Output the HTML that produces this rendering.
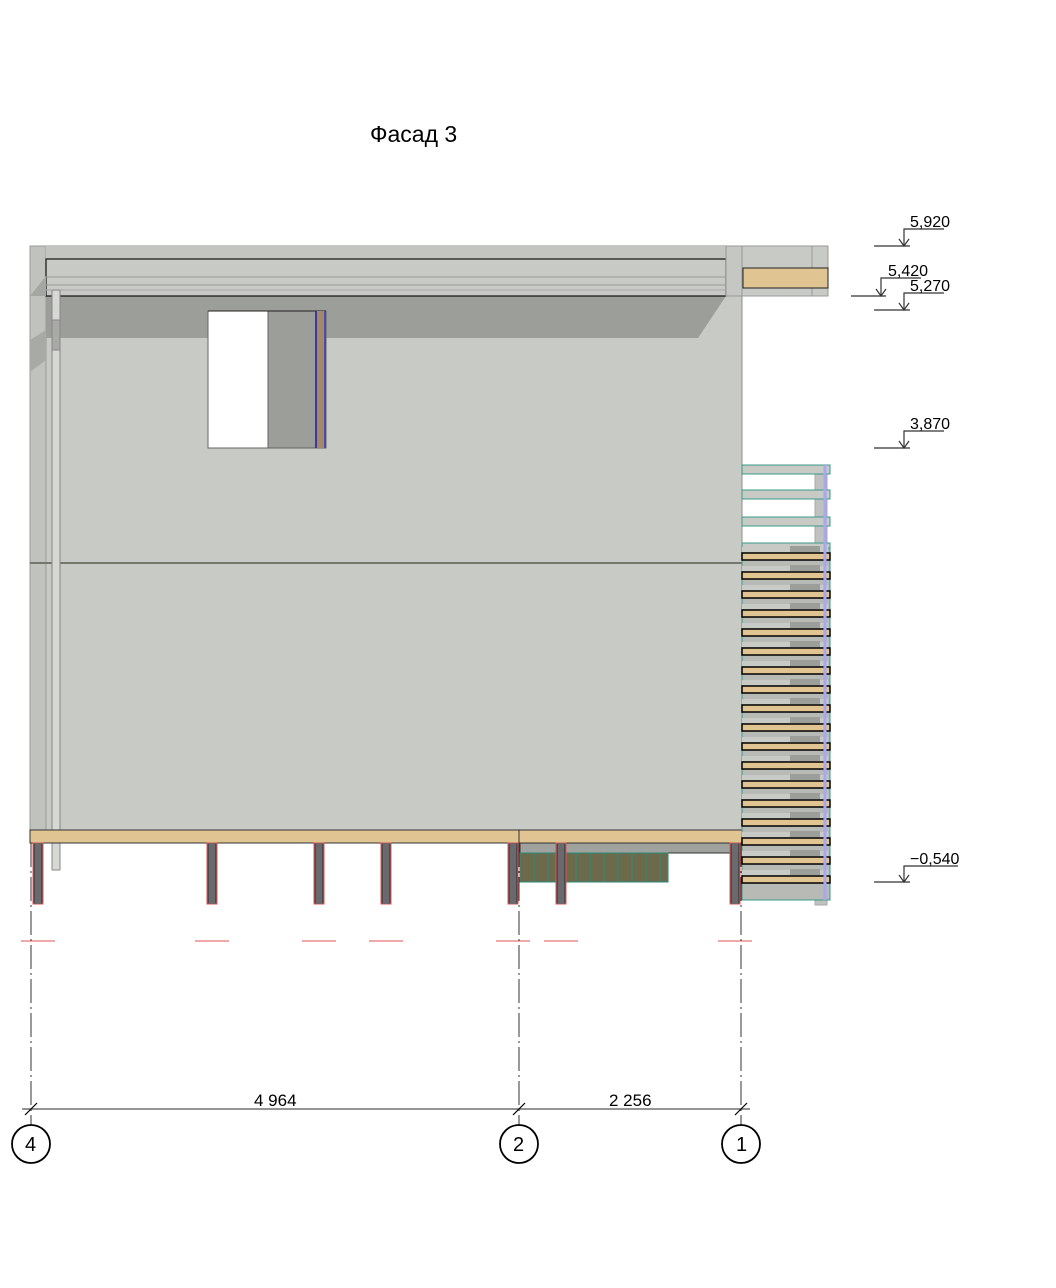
<!DOCTYPE html>
<html><head><meta charset="utf-8"><style>
html,body{margin:0;padding:0;background:#fff;width:1056px;height:1288px;overflow:hidden}
svg{display:block}
text{font-family:"Liberation Sans Narrow","Liberation Sans","DejaVu Sans",sans-serif;fill:#000}
</style></head><body>
<svg id="s" width="1056" height="1288" viewBox="0 0 1056 1288" xmlns="http://www.w3.org/2000/svg">
<text x="370" y="142" font-size="23">Фасад 3</text>
<rect x="30" y="246" width="712" height="584" fill="#c8cac5" stroke="#8d8f8b"/>
<rect x="30" y="246" width="16" height="584" fill="#c0c2bd" stroke="#9a9c98"/>
<polygon points="46,296 726,296 698,338 46,338" fill="#9c9e99"/>
<polygon points="30,340 46,330 46,360 30,372" fill="#a8aaa5"/>
<rect x="46" y="246" width="680" height="50" fill="#c3c5c0"/>
<rect x="46" y="259" width="680" height="37" fill="#c8cac5" stroke="#111" stroke-width="1.2"/>
<line x1="46" y1="277" x2="726" y2="277" stroke="#999"/>
<line x1="46" y1="285" x2="726" y2="285" stroke="#999"/>
<line x1="46" y1="290" x2="726" y2="290" stroke="#aaa"/>
<polygon points="30,296 46,276 46,296" fill="#a5a7a2"/>
<rect x="726" y="246" width="16" height="50" fill="#c5c7c2" stroke="#999"/>
<rect x="742" y="246" width="86" height="50" fill="#c8cac5" stroke="#999"/>
<line x1="812" y1="246" x2="812" y2="296" stroke="#999"/>
<rect x="743" y="268" width="85" height="20" fill="#e0c491" stroke="#222"/>
<rect x="208" y="311" width="60" height="137" fill="#fff" stroke="#666"/>
<rect x="268" y="311" width="58" height="137" fill="#9c9e99" stroke="#666"/>
<line x1="208" y1="311" x2="326" y2="311" stroke="#222"/>
<rect x="316" y="311" width="9" height="137" fill="#a08a6a"/>
<line x1="316" y1="311" x2="316" y2="448" stroke="#1a1ab0" stroke-width="1.5"/>
<line x1="325" y1="311" x2="325" y2="448" stroke="#3a3acc" stroke-width="1.5"/>
<line x1="30" y1="563" x2="742" y2="563" stroke="#77766c" stroke-width="2"/>
<rect x="52" y="290" width="8" height="580" fill="#d6d8d4" stroke="#888"/>
<rect x="52" y="320" width="8" height="30" fill="#a8aaa5" stroke="#888"/>
<rect x="30" y="830" width="712" height="13" fill="#e0c491" stroke="#333"/>
<line x1="519" y1="830" x2="519" y2="843" stroke="#333"/>
<rect x="520" y="843" width="222" height="10" fill="#a0a29d" stroke="#333"/>
<rect x="520" y="853" width="148" height="29" fill="#6b6a4a" stroke="#2e8a7a"/>
<g id="grid"></g>
<g id="piles"></g>
<g id="louv"></g>
<g stroke="#333" stroke-width="1" stroke-dasharray="24,4,2,4">
<line x1="31" y1="843" x2="31" y2="1125"/>
<line x1="519" y1="843" x2="519" y2="1125"/>
<line x1="741" y1="843" x2="741" y2="1125"/>
</g>
<line x1="22" y1="1109" x2="750" y2="1109" stroke="#555" stroke-width="1.2"/>
<g stroke="#000" stroke-width="1.2">
<line x1="25" y1="1115" x2="37" y2="1103"/><line x1="513" y1="1115" x2="525" y2="1103"/><line x1="735" y1="1115" x2="747" y2="1103"/>
</g>
<text x="254" y="1106" font-size="17">4 964</text>
<text x="609" y="1106" font-size="17">2 256</text>
<g fill="#fff" stroke="#000" stroke-width="1.8">
<circle cx="31" cy="1144" r="19"/><circle cx="519" cy="1144" r="19"/><circle cx="741" cy="1144" r="19"/>
</g>
<text x="25" y="1151" font-size="20">4</text>
<text x="513" y="1151" font-size="20">2</text>
<text x="736" y="1151" font-size="20">1</text>
<g stroke="#333" stroke-width="1.2" fill="none">
<line x1="874" y1="246" x2="910" y2="246"/><polyline points="904,246 904,229 944,229"/><polyline points="899,239 904,246 909,239"/>
<line x1="851" y1="296" x2="886" y2="296"/><polyline points="881,296 881,278 921,278"/><polyline points="876,289 881,296 886,289"/>
<line x1="874" y1="310" x2="910" y2="310"/><polyline points="904,310 904,293 944,293"/><polyline points="899,303 904,310 909,303"/>
<line x1="874" y1="448" x2="910" y2="448"/><polyline points="904,448 904,431 944,431"/><polyline points="899,441 904,448 909,441"/>
<line x1="874" y1="882" x2="910" y2="882"/><polyline points="904,882 904,866 958,866"/><polyline points="899,875 904,882 909,875"/>
</g>
<g font-size="16">
<text x="910" y="227">5,920</text>
<text x="888" y="276">5,420</text>
<text x="910" y="291">5,270</text>
<text x="910" y="429">3,870</text>
<text x="910" y="864">−0,540</text>
</g>
</svg>
<script>
var NS="http://www.w3.org/2000/svg";
function el(p,t,a){var e=document.createElementNS(NS,t);for(var k in a)e.setAttribute(k,a[k]);document.getElementById(p).appendChild(e);}
for(var x=534;x<668;x+=14)el("grid","line",{x1:x,y1:853,x2:x,y2:882,stroke:"#2e8a7a","stroke-width":1});
[33,207,314,381,508,556,730].forEach(function(x){
 el("piles","rect",{x:x,y:843,width:10,height:61,fill:"#4a4a4e",stroke:"#e05050"});
 el("piles","rect",{x:x+2,y:843,width:6,height:61,fill:"#6a6a6e"});
 el("piles","line",{x1:x-12,y1:941,x2:x+22,y2:941,stroke:"#e05050"});
});
el("louv","rect",{x:815,y:465,width:12,height:440,fill:"#c0c2c0",stroke:"#aaa"});
[465,490,517,543].forEach(function(y){el("louv","rect",{x:742,y:y,width:88,height:9,fill:"#c8cac5",stroke:"#3a9a8a"});});
el("louv","rect",{x:742,y:548,width:88,height:352,fill:"#b8bab6",stroke:"#3a9a8a"});
for(var y=553;y<890;y+=19){
 el("louv","rect",{x:742,y:y-6,width:86,height:5,fill:"#c8cac5"});
 el("louv","rect",{x:742,y:y,width:88,height:7,fill:"#e0c491",stroke:"#000","stroke-width":1.5});
 el("louv","rect",{x:790,y:y-7,width:30,height:6,fill:"#9c9e99"});
}
el("louv","line",{x1:825,y1:465,x2:825,y2:900,stroke:"#a8a8ee","stroke-width":3});
</script>
</body></html>
